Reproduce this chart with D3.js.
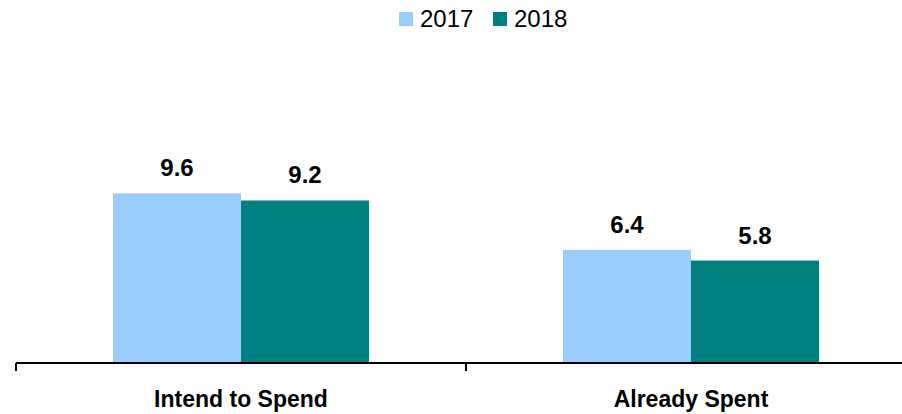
<!DOCTYPE html>
<html>
<head>
<meta charset="utf-8">
<script src="https://cdn.jsdelivr.net/npm/d3@7"></script>
<style>
  body { margin: 0; background: #fff; }
  text { font-family: "Liberation Sans", Arial, sans-serif; }
</style>
</head>
<body>
<script>
// DATA
const categories = ["Intend to Spend", "Already Spent"];
const years = ["2017", "2018"];
const values2017 = [9.6, 6.4];
const values2018 = [9.2, 5.8];
const colors = ["#99ccff", "#008080"];

const rows = categories.map((c, i) => ({
  category: c,
  vals: [{year: years[0], value: values2017[i]}, {year: years[1], value: values2018[i]}]
}));

// D3
const svg = d3.select("body")
  .append("svg")
  .attr("width", 902)
  .attr("height", 414);

const margin = {top: 151, right: -14, bottom: 51, left: 16};
const width = +svg.attr("width") - margin.left - margin.right;
const height = +svg.attr("height") - margin.top - margin.bottom;

const x0 = d3.scaleBand()
  .domain(categories)
  .range([0, width]);

const x1 = d3.scaleBand()
  .domain(years)
  .range([0, 256])
  .padding(0);

const y = d3.scaleLinear()
  .domain([0, 12])
  .range([height, 0]);

const g = svg.append("g")
  .attr("transform", "translate(" + margin.left + "," + margin.top + ")");

const groups = g.selectAll(".grp").data(rows)
  .enter()
  .append("g")
  .attr("class", "grp")
  .attr("transform", d => "translate(" + (x0(d.category) + (x0.bandwidth() - 256) / 2) + ",0)");

groups.selectAll("rect").data(d => d.vals)
  .enter()
  .append("rect")
  .attr("x", d => x1(d.year))
  .attr("y", d => y(d.value))
  .attr("width", x1.bandwidth())
  .attr("height", d => height - y(d.value))
  .attr("fill", (d, i) => colors[i]);

groups.selectAll(".lbl").data(d => d.vals)
  .enter()
  .append("text")
  .attr("class", "lbl")
  .attr("x", d => x1(d.year) + x1.bandwidth() / 2)
  .attr("y", d => y(d.value) - 17)
  .attr("text-anchor", "middle")
  .attr("font-size", 24)
  .attr("font-weight", "bold")
  .attr("fill", "#000")
  .text(d => d.value.toFixed(1));

// x axis with ticks between categories
const axis = g.append("g")
  .attr("transform", "translate(0," + height + ")");

axis.append("line")
  .attr("x1", 0).attr("x2", width)
  .attr("stroke", "#000").attr("stroke-width", 2);

axis.selectAll(".tk").data(categories)
  .enter()
  .append("line")
  .attr("x1", d => x0(d)).attr("x2", d => x0(d))
  .attr("y1", 0).attr("y2", 8)
  .attr("stroke", "#000").attr("stroke-width", 2);

axis.selectAll(".cat").data(categories)
  .enter()
  .append("text")
  .attr("x", d => x0(d) + x0.bandwidth() / 2)
  .attr("y", 44)
  .attr("text-anchor", "middle")
  .attr("font-size", 23)
  .attr("font-weight", "bold")
  .attr("fill", "#000")
  .text(d => d);

// legend
const legend = svg.append("g");
const legendX = [399, 493];
years.forEach((yr, i) => {
  legend.append("rect")
    .attr("x", legendX[i]).attr("y", 12)
    .attr("width", 14).attr("height", 14)
    .attr("fill", colors[i]);
  legend.append("text")
    .attr("x", legendX[i] + 21).attr("y", 27)
    .attr("font-size", 24)
    .attr("fill", "#000")
    .text(yr);
});
</script>
</body>
</html>
